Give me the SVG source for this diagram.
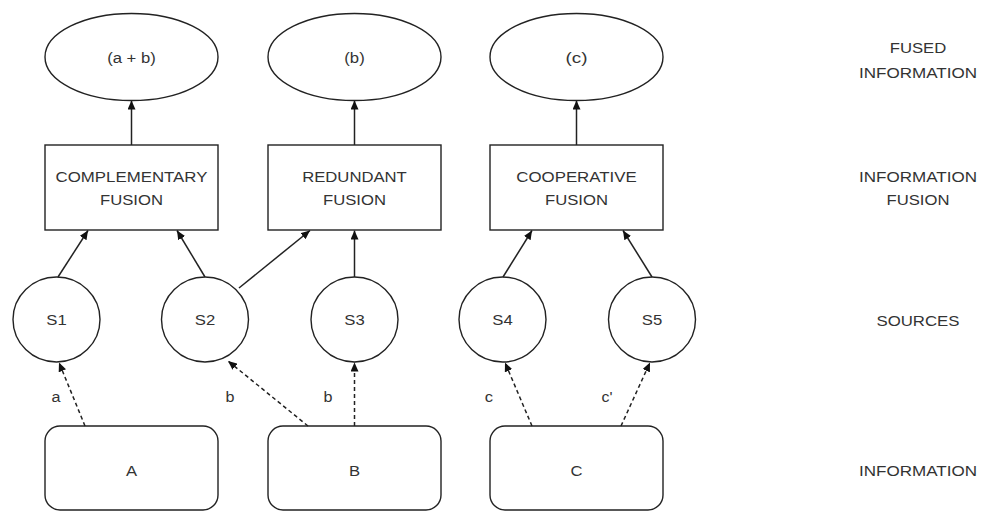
<svg xmlns="http://www.w3.org/2000/svg" width="982" height="512" viewBox="0 0 982 512">
<defs>
<marker id="ah" viewBox="0 0 9 8" refX="9" refY="4" markerWidth="9" markerHeight="8" markerUnits="userSpaceOnUse" orient="auto">
<path d="M0,0 L9,4 L0,8 z" fill="#111"/>
</marker>
<style>
.shape{fill:#fff;stroke:#222;stroke-width:1.4}
.t{font-family:"Liberation Sans",Arial,sans-serif;font-size:14px;fill:#333;text-anchor:middle}
.s{font-family:"Liberation Sans",Arial,sans-serif;font-size:14px;fill:#333;text-anchor:middle}
.solid{stroke:#222;stroke-width:1.5;fill:none;marker-end:url(#ah)}
.dash{stroke:#222;stroke-width:1.5;fill:none;stroke-dasharray:4,3;marker-end:url(#ah)}
</style>
</defs>
<rect width="982" height="512" fill="#fff"/>

<g id="fused1"><ellipse class="shape" cx="131.5" cy="57" rx="86.5" ry="43.5"/><text class="t" x="131.5" y="63" textLength="48.6" lengthAdjust="spacingAndGlyphs">(a + b)</text></g>
<g id="fused2"><ellipse class="shape" cx="354.5" cy="57" rx="86.5" ry="43.5"/><text class="t" x="354.5" y="63" textLength="20.4" lengthAdjust="spacingAndGlyphs">(b)</text></g>
<g id="fused3"><ellipse class="shape" cx="576.5" cy="57" rx="86.5" ry="43.5"/><text class="t" x="576.5" y="63" textLength="22" lengthAdjust="spacingAndGlyphs">(c)</text></g>

<g id="complementary"><rect class="shape" x="45" y="145" width="173" height="85"/><text class="t" x="131.5" y="182" textLength="151.8" lengthAdjust="spacingAndGlyphs">COMPLEMENTARY</text><text class="t" x="131.5" y="205" textLength="62.9" lengthAdjust="spacingAndGlyphs">FUSION</text></g>
<g id="redundant"><rect class="shape" x="268" y="145" width="173" height="85"/><text class="t" x="354.5" y="182" textLength="104.6" lengthAdjust="spacingAndGlyphs">REDUNDANT</text><text class="t" x="354.5" y="205" textLength="62.9" lengthAdjust="spacingAndGlyphs">FUSION</text></g>
<g id="cooperative"><rect class="shape" x="490" y="145" width="173" height="85"/><text class="t" x="576.5" y="182" textLength="120.4" lengthAdjust="spacingAndGlyphs">COOPERATIVE</text><text class="t" x="576.5" y="205" textLength="62.9" lengthAdjust="spacingAndGlyphs">FUSION</text></g>

<g id="s1"><ellipse class="shape" cx="56.5" cy="319.5" rx="43.5" ry="42.5"/><text class="t" x="56.5" y="325" textLength="20.4" lengthAdjust="spacingAndGlyphs">S1</text></g>
<g id="s2"><ellipse class="shape" cx="205" cy="319.5" rx="43.5" ry="42.5"/><text class="t" x="205" y="325" textLength="20.4" lengthAdjust="spacingAndGlyphs">S2</text></g>
<g id="s3"><ellipse class="shape" cx="354.5" cy="319.5" rx="43.5" ry="42.5"/><text class="t" x="354.5" y="325" textLength="20.4" lengthAdjust="spacingAndGlyphs">S3</text></g>
<g id="s4"><ellipse class="shape" cx="502.5" cy="319.5" rx="43.5" ry="42.5"/><text class="t" x="502.5" y="325" textLength="20.4" lengthAdjust="spacingAndGlyphs">S4</text></g>
<g id="s5"><ellipse class="shape" cx="652" cy="319.5" rx="43.5" ry="42.5"/><text class="t" x="652" y="325" textLength="20.4" lengthAdjust="spacingAndGlyphs">S5</text></g>

<g id="infoA"><rect class="shape" x="45" y="426" width="173" height="84" rx="15" ry="15"/><text class="t" x="131.5" y="476" textLength="11.1" lengthAdjust="spacingAndGlyphs">A</text></g>
<g id="infoB"><rect class="shape" x="268" y="426" width="173" height="84" rx="15" ry="15"/><text class="t" x="354.5" y="476" textLength="11.1" lengthAdjust="spacingAndGlyphs">B</text></g>
<g id="infoC"><rect class="shape" x="490" y="426" width="173" height="84" rx="15" ry="15"/><text class="t" x="576.5" y="476" textLength="12" lengthAdjust="spacingAndGlyphs">C</text></g>

<g id="connectors">
<line class="solid" x1="131.5" y1="145" x2="131.5" y2="100.5"/>
<line class="solid" x1="354.5" y1="145" x2="354.5" y2="100.5"/>
<line class="solid" x1="576.5" y1="145" x2="576.5" y2="100.5"/>
<line class="solid" x1="58" y1="277" x2="88" y2="230.5"/>
<line class="solid" x1="205" y1="277" x2="177" y2="230.5"/>
<line class="solid" x1="239" y1="288" x2="310" y2="230.5"/>
<line class="solid" x1="354.5" y1="277" x2="354.5" y2="230.5"/>
<line class="solid" x1="503" y1="277" x2="532" y2="230.5"/>
<line class="solid" x1="652" y1="277" x2="623" y2="230.5"/>
<line class="dash" x1="85" y1="426" x2="59" y2="362.5"/>
<line class="dash" x1="308" y1="426" x2="228" y2="361"/>
<line class="dash" x1="354.5" y1="426" x2="354.5" y2="362.5"/>
<line class="dash" x1="532" y1="426" x2="505" y2="362.5"/>
<line class="dash" x1="621" y1="426" x2="650" y2="362.5"/>
<text class="s" x="56" y="402" textLength="9" lengthAdjust="spacingAndGlyphs">a</text>
<text class="s" x="230" y="402" textLength="9" lengthAdjust="spacingAndGlyphs">b</text>
<text class="s" x="328" y="402" textLength="9" lengthAdjust="spacingAndGlyphs">b</text>
<text class="s" x="489" y="402" textLength="8.3" lengthAdjust="spacingAndGlyphs">c</text>
<text class="s" x="607" y="402" textLength="11" lengthAdjust="spacingAndGlyphs">c'</text>
</g>

<g id="legend">
<text class="t" x="918" y="53" textLength="56.5" lengthAdjust="spacingAndGlyphs">FUSED</text>
<text class="t" x="918" y="78" textLength="118" lengthAdjust="spacingAndGlyphs">INFORMATION</text>
<text class="t" x="918" y="182" textLength="118" lengthAdjust="spacingAndGlyphs">INFORMATION</text>
<text class="t" x="918" y="205" textLength="62.9" lengthAdjust="spacingAndGlyphs">FUSION</text>
<text class="t" x="918" y="326" textLength="83" lengthAdjust="spacingAndGlyphs">SOURCES</text>
<text class="t" x="918" y="476" textLength="118" lengthAdjust="spacingAndGlyphs">INFORMATION</text>
</g>
</svg>
